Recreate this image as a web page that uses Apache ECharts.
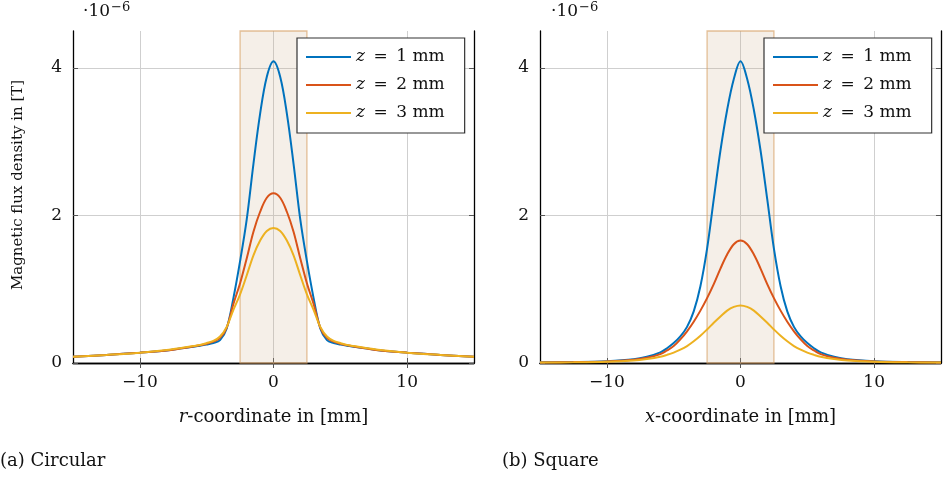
<!DOCTYPE html>
<html>
<head>
<meta charset="utf-8">
<script src="https://cdn.jsdelivr.net/npm/echarts@6/dist/echarts.min.js"></script>
<style>html,body{margin:0;padding:0;background:#fff}#c{width:944px;height:484px}</style>
</head>
<body>
<div id="c"></div>
<script>
// ---- data (values in units of 1e-6 T) ----
const xs = [-15,-12.5,-10,-8,-7,-6,-5.5,-5,-4.5,-4,-3.5,-3,-2.5,-2,-1.5,-1,-0.5,0,0.5,1,1.5,2,2.5,3,3.5,4,4.5,5,5.5,6,7,8,10,12.5,15];
const seriesNames = ['z = 1 mm','z = 2 mm','z = 3 mm'];

const circZ1 = [0.085,0.11,0.14,0.17,0.195,0.22,0.235,0.25,0.27,0.31,0.47,0.88,1.38,1.95,2.70,3.38,3.88,4.09,3.88,3.38,2.70,1.95,1.38,0.88,0.47,0.31,0.27,0.25,0.235,0.22,0.195,0.17,0.14,0.11,0.085];
const circZ2 = [0.085,0.11,0.14,0.17,0.195,0.225,0.24,0.26,0.29,0.34,0.48,0.80,1.08,1.42,1.78,2.05,2.24,2.30,2.24,2.05,1.78,1.42,1.08,0.80,0.48,0.34,0.29,0.26,0.24,0.225,0.195,0.17,0.14,0.11,0.085];
const circZ3 = [0.085,0.11,0.14,0.175,0.2,0.23,0.245,0.27,0.30,0.36,0.49,0.72,0.93,1.19,1.46,1.66,1.79,1.83,1.79,1.66,1.46,1.19,0.93,0.72,0.49,0.36,0.30,0.27,0.245,0.23,0.2,0.175,0.14,0.11,0.085];

const sqZ1 = [0.01,0.014,0.025,0.05,0.085,0.145,0.2,0.27,0.36,0.49,0.70,1.04,1.55,2.22,2.88,3.43,3.85,4.09,3.85,3.43,2.88,2.22,1.55,1.04,0.70,0.49,0.36,0.27,0.2,0.145,0.085,0.05,0.025,0.014,0.01];
const sqZ2 = [0.008,0.012,0.022,0.045,0.07,0.12,0.17,0.23,0.32,0.43,0.56,0.71,0.88,1.07,1.28,1.47,1.61,1.66,1.61,1.47,1.28,1.07,0.88,0.71,0.56,0.43,0.32,0.23,0.17,0.12,0.07,0.045,0.022,0.012,0.008];
const sqZ3 = [0.007,0.01,0.018,0.035,0.055,0.085,0.11,0.14,0.18,0.23,0.295,0.37,0.455,0.545,0.63,0.71,0.76,0.78,0.76,0.71,0.63,0.545,0.455,0.37,0.295,0.23,0.18,0.14,0.11,0.085,0.055,0.035,0.018,0.01,0.007];

const xTicks = [-10,0,10];
const yTicks = [0,2,4];
const bandRange = [-2.5, 2.5];
const colors = ['#0072BD','#D95319','#EDB120'];

// ---- chart ----
const FONT = 'DejaVu Serif';
const pair = arr => xs.map((x,i)=>[x, arr[i]]);
const fmtX = v => v < 0 ? '\u2212' + Math.abs(v) : String(v);

function xAx(grid, pos, name){
  return {
    type:'value', gridIndex:grid, position:pos, min:-15, max:15,
    name: name, nameLocation:'middle', nameGap:45,
    nameTextStyle:{fontFamily:FONT, fontSize:18, color:'#111', rich:{i:{fontFamily:FONT,fontStyle:'italic',fontSize:18,color:'#111'}}},
    axisLine:{show:true, lineStyle:{color:'#000', width:1.3}},
    axisTick:{show:true, inside:true, length:5, customValues:xTicks, lineStyle:{color:'#555'}},
    axisLabel:{show: pos==='bottom', customValues:xTicks, formatter:fmtX, margin:11, fontFamily:FONT, fontSize:17, color:'#111'},
    splitLine:{show: pos==='bottom', lineStyle:{color:'#cfcfcf', width:1}}
  };
}
function yAx(grid, pos, name){
  return {
    type:'value', gridIndex:grid, position:pos, min:0, max:4.5,
    name: name, nameLocation:'middle', nameGap:47,
    nameTextStyle:{fontFamily:FONT, fontSize:15, color:'#111', padding:[0,0,0,24]},
    axisLine:{show:true, onZero:false, lineStyle:{color:'#000', width:1.3}},
    axisTick:{show:true, inside:true, length:5, customValues:yTicks, lineStyle:{color:'#555'}},
    axisLabel:{show: pos==='left', customValues:yTicks, margin:11, fontFamily:FONT, fontSize:17, color:'#111'},
    splitLine:{show: pos==='left', lineStyle:{color:'#cfcfcf', width:1}}
  };
}

function lineSeries(idx, grid, arr, withBand){
  const s = {
    type:'line', name:seriesNames[idx], xAxisIndex:grid*2, yAxisIndex:grid*2,
    data: pair(arr), smooth:0.35, symbol:'none',
    lineStyle:{color:colors[idx], width:2}, itemStyle:{color:colors[idx]}, z:5
  };
  if (withBand){
    s.markArea = {
      silent:true,
      itemStyle:{color:'rgba(205,175,140,0.2)', borderColor:'rgba(215,160,100,0.65)', borderWidth:1.3},
      data:[[{xAxis:bandRange[0]},{xAxis:bandRange[1]}]]
    };
  }
  return s;
}

function legend(left){
  return {
    orient:'vertical', left:left, top:38,
    backgroundColor:'#fff', borderColor:'#333', borderWidth:1.2, borderRadius:0,
    padding:[9,20,10,9], itemGap:8, itemWidth:45, itemHeight:14,
    icon:'path://M0,6 L45,6 L45,8 L0,8 Z',
    data: seriesNames,
    formatter: n => '{i|z}' + n.slice(1).replace(' = ', '\u2002=\u2002'),
    textStyle:{fontFamily:FONT, fontSize:17, color:'#111', lineHeight:20,
      rich:{i:{fontFamily:FONT, fontStyle:'italic', fontSize:17, color:'#111'}}}
  };
}

const option = {
  animation:false,
  backgroundColor:'#fff',
  grid:[
    {left:73, right:470, top:31, bottom:121},
    {left:540, right:3, top:31, bottom:121}
  ],
  xAxis:[
    xAx(0,'bottom','{i|r}-coordinate in [mm]'), xAx(0,'top',''),
    xAx(1,'bottom','{i|x}-coordinate in [mm]'), xAx(1,'top','')
  ],
  yAxis:[
    yAx(0,'left','Magnetic flux density in [T]'), yAx(0,'right',''),
    yAx(1,'left',''), yAx(1,'right','')
  ],
  legend:[legend(297), legend(764)],
  series:[
    lineSeries(0,0,circZ1,true), lineSeries(1,0,circZ2,false), lineSeries(2,0,circZ3,false),
    lineSeries(0,1,sqZ1,true), lineSeries(1,1,sqZ2,false), lineSeries(2,1,sqZ3,false)
  ],
  graphic:[
    {type:'text', left:83, top:3, style:{text:'\u00b710', font:'17px "DejaVu Serif"', fill:'#111'}},
    {type:'text', left:111, top:1, style:{text:'\u22126', font:'13px "DejaVu Serif"', fill:'#111'}},
    {type:'text', left:551, top:3, style:{text:'\u00b710', font:'17px "DejaVu Serif"', fill:'#111'}},
    {type:'text', left:579, top:1, style:{text:'\u22126', font:'13px "DejaVu Serif"', fill:'#111'}},
    {type:'text', left:0, top:452, style:{text:'(a) Circular', font:'18px "DejaVu Serif"', fill:'#111'}},
    {type:'text', left:502, top:452, style:{text:'(b) Square', font:'18px "DejaVu Serif"', fill:'#111'}}
  ]
};
echarts.init(document.getElementById('c'), null, {renderer:'canvas'}).setOption(option);
</script>
</body>
</html>
